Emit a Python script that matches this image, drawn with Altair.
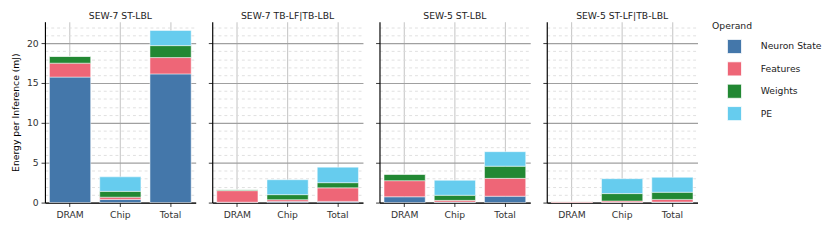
import altair as alt
import pandas as pd

panels = ["SEW-7 ST-LBL", "SEW-7 TB-LF|TB-LBL", "SEW-5 ST-LBL", "SEW-5 ST-LF|TB-LBL"]
locations = ["DRAM", "Chip", "Total"]
operands = ["Neuron State", "Features", "Weights", "PE"]
colors = ["#4477AA", "#EE6677", "#228833", "#66CCEE"]

# values per (panel, location) in order of panels x locations
neuron_state = [15.75, 0.40, 16.15, 0.05, 0.15, 0.15, 0.73, 0.07, 0.80, 0.02, 0.05, 0.07]
features = [1.75, 0.28, 2.05, 1.45, 0.22, 1.70, 2.02, 0.21, 2.24, 0.13, 0.15, 0.33]
weights = [0.85, 0.73, 1.50, 0.10, 0.63, 0.65, 0.81, 0.64, 1.53, 0.02, 0.93, 0.90]
pe = [0.0, 1.82, 1.90, 0.0, 1.87, 1.95, 0.0, 1.88, 1.82, 0.0, 1.87, 1.87]

series = [neuron_state, features, weights, pe]
rows = []
for oi, (op, vals) in enumerate(zip(operands, series)):
    i = 0
    for p in panels:
        for loc in locations:
            rows.append({"panel": p, "loc": loc, "operand": op, "ord": oi, "value": vals[i]})
            i += 1
df = pd.DataFrame(rows)

major = "datum.value % 5 === 0"
font = "DejaVu Sans"
fs = 9.5


def panel_chart(name, first):
    yaxis = dict(
        values=list(range(0, 23)),
        grid=True,
        gridDash={"condition": {"test": major, "value": []}, "value": [3, 3]},
        gridColor={"condition": {"test": major, "value": "#a0a0a0"}, "value": "#dcdcdc"},
        gridWidth={"condition": {"test": major, "value": 1.2}, "value": 0.9},
        tickOpacity={"condition": {"test": major, "value": 1}, "value": 0},
        tickSize=4,
        tickColor="#333333",
        domainColor="#000000",
        domainWidth=1.2,
        labelExpr="datum.value % 5 === 0 ? datum.label : ''",
        labelFontSize=fs,
        labelColor="#333333",
        labelPadding=3,
    )
    if first:
        yaxis.update(title="Energy per Inference (mJ)", titleFontSize=fs,
                     titleFontWeight="normal", titlePadding=6)
    else:
        yaxis.update(title=None, labels=False)
    return (
        alt.Chart(df)
        .transform_filter(alt.datum.panel == name)
        .mark_bar(stroke="white", strokeWidth=0.5)
        .encode(
            x=alt.X("loc:N", sort=locations, scale=alt.Scale(paddingInner=0.18, paddingOuter=0.09),
                    axis=alt.Axis(title=None, labelAngle=0, grid=True, bandPosition=0.5,
                                  gridColor="#cccccc", gridWidth=1.2, tickSize=4,
                                  tickColor="#333333", domainColor="#000000", domainWidth=1.2,
                                  labelFontSize=fs, labelColor="#333333", labelPadding=3)),
            y=alt.Y("sum(value):Q", scale=alt.Scale(domain=[0, 22.7], nice=False),
                    axis=alt.Axis(**yaxis)),
            color=alt.Color("operand:N", scale=alt.Scale(domain=operands, range=colors),
                            legend=alt.Legend(title="Operand")),
            order=alt.Order("ord:Q", sort="ascending"),
        )
        .properties(width=155, height=186,
                    title=alt.TitleParams(name, fontSize=fs, fontWeight="normal",
                                          offset=1, color="#222222"))
    )


chart = (
    alt.hconcat(*[panel_chart(p, i == 0) for i, p in enumerate(panels)], spacing=12)
    .properties(padding={"left": 2, "top": 0, "right": 0, "bottom": 5})
    .configure(font=font)
    .configure_view(stroke=None)
    .configure_legend(titleFontSize=fs, titleFontWeight="normal", labelFontSize=fs,
                      symbolType="square", symbolSize=210, symbolStrokeWidth=0.8,
                      rowPadding=5, labelOffset=19, titlePadding=8, offset=15,
                      symbolOffset=15, titleColor="#222222", labelColor="#222222")
)

chart.save("out.html", embed_options={"renderer": "svg", "actions": False})
